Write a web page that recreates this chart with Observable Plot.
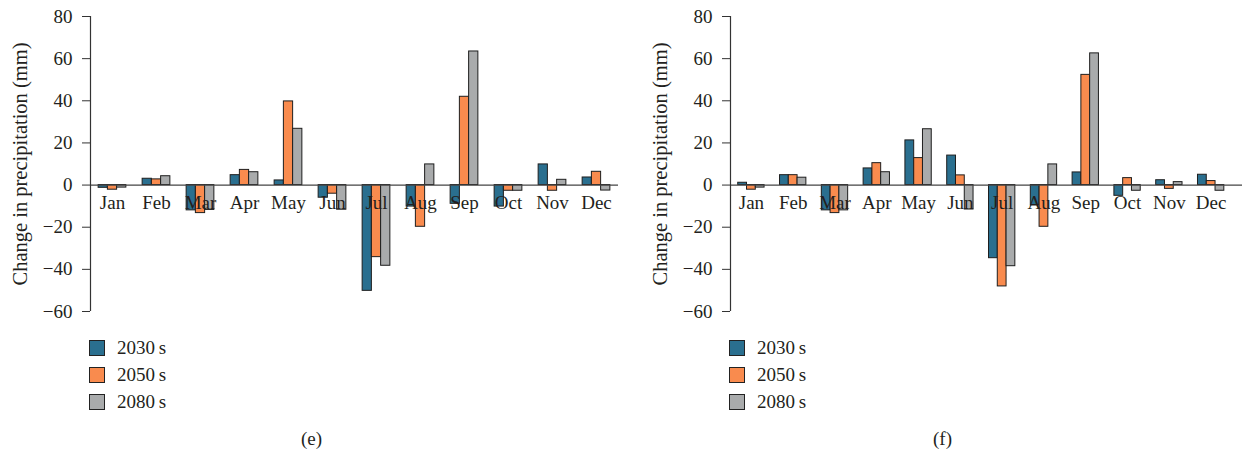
<!DOCTYPE html>
<html>
<head>
<meta charset="utf-8">
<script src="https://cdn.jsdelivr.net/npm/d3@7"></script>
<script src="https://cdn.jsdelivr.net/npm/@observablehq/plot@0.6"></script>
<style>
  html, body { margin: 0; padding: 0; background: #fff; }
  #wrap { position: relative; width: 1246px; height: 455px; font-family: "Liberation Serif", serif; color: #231f20; }
  .panel { position: absolute; top: 0; }
  .legend { position: absolute; font-size: 19px; }
  .legend .row { position: absolute; left: 0; display: flex; align-items: center; white-space: nowrap; }
  .legend .sw { width: 14px; height: 14px; border: 1px solid #222; box-sizing: content-box; margin-right: 12px; }
  .cap { position: absolute; font-size: 19px; top: 428px; }
</style>
</head>
<body>
<div id="wrap"></div>
<script>
const months = ["Jan","Feb","Mar","Apr","May","Jun","Jul","Aug","Sep","Oct","Nov","Dec"];
const series = ["2030s","2050s","2080s"];
const seriesLabels = ["2030\u2009s","2050\u2009s","2080\u2009s"];
const colors = ["#2a6f8f","#f98b4e","#a9abac"];
const yTicks = [-60,-40,-20,0,20,40,60,80];

// Panel (e)
const e2030 = [-1.3, 3.0, -12.0, 4.7, 2.2, -6.0, -50.2, -10.2, -8.9, -10.2, 9.8, 3.6];
const e2050 = [-2.2, 2.7, -13.3, 7.2, 39.7, -4.1, -34.2, -19.8, 41.9, -2.7, -2.7, 6.3];
const e2080 = [-1.2, 4.2, -11.8, 6.1, 26.7, -11.7, -38.3, 9.8, 63.4, -2.7, 2.5, -2.6];
// Panel (f)
const f2030 = [1.1, 4.7, -12.0, 7.9, 21.2, 14.0, -34.7, -9.7, 6.0, -5.1, 2.3, 4.9];
const f2050 = [-2.2, 4.7, -13.3, 10.4, 12.8, 4.6, -48.1, -19.8, 52.3, 3.3, -1.8, 1.9];
const f2080 = [-1.2, 3.5, -12.0, 6.1, 26.5, -11.6, -38.5, 9.8, 62.5, -2.7, 1.4, -2.7];

const W = 0.21; // bar width in month units
const FONT = "Liberation Serif, serif";

function rows(arrs) {
  const out = [];
  months.forEach((m, i) => {
    arrs.forEach((a, s) => out.push({month: m, i, s, series: series[s], value: a[i]}));
  });
  return out;
}

function panel(arrs, width, xmax, plotW) {
  const data = rows(arrs);
  return Plot.plot({
    width, height: 330,
    marginLeft: 90, marginRight: width - 90 - plotW,
    marginTop: 16, marginBottom: 19,
    style: {fontFamily: FONT, fontSize: "19px", color: "#231f20", background: "white"},
    x: {domain: [-0.5, xmax], axis: null},
    y: {domain: [-60, 80], axis: null},
    color: {domain: series, range: colors},
    marks: [
      Plot.rect(data, {
        x1: d => d.i + (d.s - 1) * W - W / 2,
        x2: d => d.i + (d.s - 1) * W + W / 2,
        y1: () => 0, y2: "value",
        fill: "series", stroke: "#1e1e1e", strokeWidth: 1
      }),
      Plot.ruleY([0], {stroke: "#444", strokeWidth: 1.2}),
      Plot.ruleX([-0.5], {stroke: "#333", strokeWidth: 1.2}),
      Plot.axisY({ticks: yTicks, tickSize: 8, tickPadding: 10, label: null, stroke: "#333", fill: "#231f20", fontSize: 19, fontFamily: FONT}),
      Plot.text(months, {x: (d, i) => i, y: () => 0, dy: 18, text: d => d, fontSize: 19, fontFamily: FONT, fill: "#231f20"}),
      Plot.text(["Change in precipitation (mm)"], {frameAnchor: "left", textAnchor: "middle", rotate: -90, dx: -70, fontSize: 20.5, fontFamily: FONT, fill: "#231f20"})
    ]
  });
}

const wrap = document.getElementById("wrap");

function addPanel(left, width, xmax, plotW, arrs, cap, capX) {
  const div = document.createElement("div");
  div.className = "panel";
  div.style.left = left + "px";
  div.appendChild(panel(arrs, width, xmax, plotW));
  wrap.appendChild(div);

  const lg = document.createElement("div");
  lg.className = "legend";
  lg.style.left = (left + 89) + "px";
  lg.style.top = "339px";
  series.forEach((s, k) => {
    const r = document.createElement("div");
    r.className = "row";
    r.style.top = (k * 27 - 2) + "px";
    const sw = document.createElement("div");
    sw.className = "sw";
    sw.style.background = colors[k];
    const t = document.createElement("span");
    t.textContent = seriesLabels[k];
    r.appendChild(sw); r.appendChild(t);
    lg.appendChild(r);
  });
  wrap.appendChild(lg);

  const c = document.createElement("div");
  c.className = "cap";
  c.style.left = capX + "px";
  c.textContent = cap;
  wrap.appendChild(c);
}

addPanel(0, 640, 11.5, 528, [e2030, e2050, e2080], "(e)", 301);
addPanel(640, 606, 11.75, 512, [f2030, f2050, f2080], "(f)", 933);
</script>
</body>
</html>
